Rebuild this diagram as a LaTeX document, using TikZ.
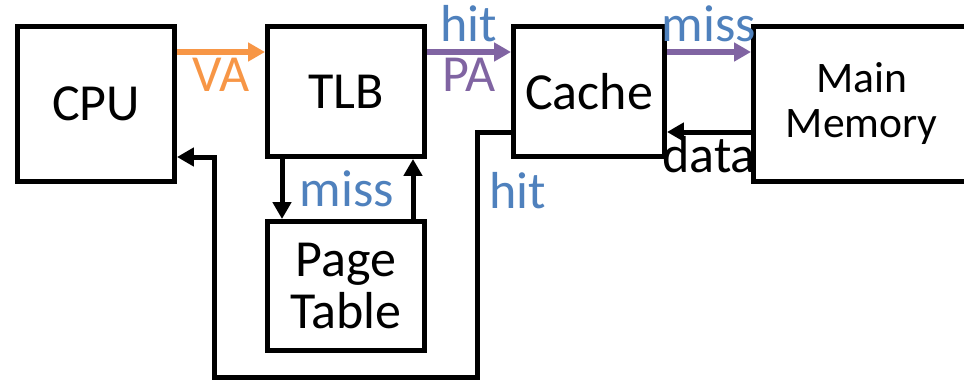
\documentclass[tikz,border=0pt]{standalone}
\usepackage{fontspec}
\setmainfont{Carlito}
\usetikzlibrary{arrows.meta, positioning}
\definecolor{vaorange}{RGB}{247,150,70}
\definecolor{papurple}{RGB}{128,100,162}
\definecolor{lblblue}{RGB}{79,129,189}

\begin{document}
\begin{tikzpicture}[
    node distance=1.5cm and 2.1cm,
    box/.style={rectangle, draw, line width=0.125cm, minimum width=3.925cm, minimum height=3.25cm, inner sep=0pt, font=\fontsize{37}{40}\selectfont},
    arrow/.style={-{Triangle[length=0.42cm, width=0.45cm]}, line width=0.125cm},
    flow/.style={arrow, line width=0.15cm},
    lbl/.style={inner sep=0pt, font=\fontsize{37}{40}\selectfont}
]
    \useasboundingbox (-2.4,2.6) rectangle (21.7,-6.975);

    \node[box, minimum height=3.875cm] (cpu) {CPU};
    \node[box, right=2.2cm of cpu.north east, anchor=north west] (tlb) {TLB};
    \node[box, right=of tlb, minimum width=3.775cm] (cache) {Cache};
    \node[box, right=of cache.north east, anchor=north west, minimum width=5.4125cm, minimum height=3.875cm, align=center, font=\fontsize{31}{32}\selectfont] (mm) {Main\\Memory};
    \node[box, below=of tlb, minimum height=3.225cm, align=center, font=\fontsize{37}{37.6}\selectfont] (pt) {Page\\Table};

    \draw[flow, vaorange] ([yshift=-0.7cm]cpu.north east) -- node[lbl, below=2pt] {VA} ([yshift=-0.7cm]tlb.north west);
    \draw[flow, papurple] ([yshift=-0.7cm]tlb.north east) -- node[lbl, above=5pt, lblblue] {hit} node[lbl, below=2pt] {PA} ([yshift=-0.7cm]cache.north west);
    \draw[flow, papurple] ([yshift=-0.7cm]cache.north east) -- node[lbl, above=5pt, lblblue] {miss} ([yshift=-0.7cm]mm.north west);
    \draw[arrow] ([yshift=-2.7cm]mm.north west) -- node[lbl, below=1pt] {data} ([yshift=-2.7cm]cache.north east);

    \draw[arrow] ([xshift=0.425cm]tlb.south west) -- node[lbl, right=11pt, lblblue] {miss} ([xshift=0.425cm]pt.north west);
    \draw[arrow] ([xshift=-0.35cm]pt.north east) -- ([xshift=-0.35cm]tlb.south east);

    \draw[arrow] ([yshift=-2.7cm]cache.north west) -- ++(-0.85,0) -- node[lbl, pos=0.24, right=7pt, lblblue] {hit} ++(0,-6.125) -- ++(-6.575,0) |- ([yshift=-3.325cm]cpu.north east);
\end{tikzpicture}
\end{document}
